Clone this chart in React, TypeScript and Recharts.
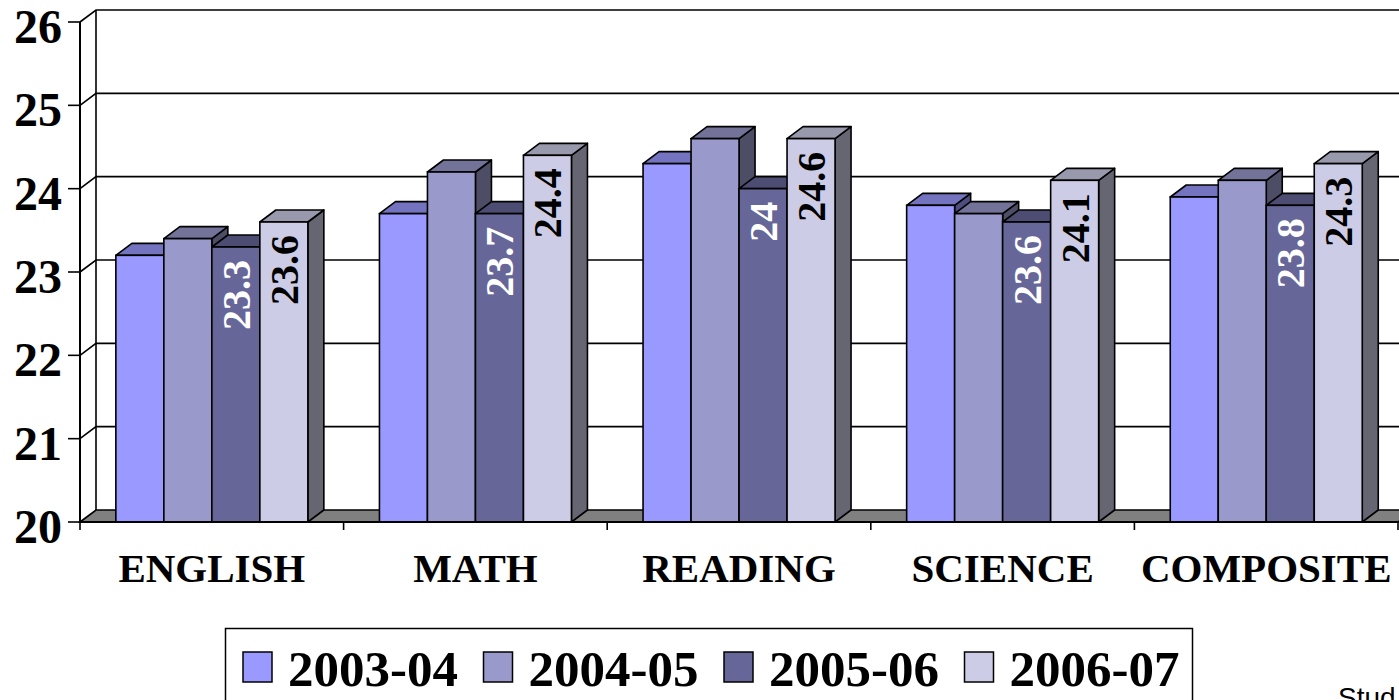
import React from 'react';
import { BarChart, Bar, XAxis, YAxis, CartesianGrid } from 'recharts';

const categories = ['ENGLISH', 'MATH', 'READING', 'SCIENCE', 'COMPOSITE'];
const s2003 = [23.2, 23.7, 24.3, 23.8, 23.9];
const s2004 = [23.4, 24.2, 24.6, 23.7, 24.1];
const s2005 = [23.3, 23.7, 24.0, 23.6, 23.8];
const s2006 = [23.6, 24.4, 24.6, 24.1, 24.3];
const seriesNames = ['2003-04', '2004-05', '2005-06', '2006-07'];
const seriesKeys = ['s2003', 's2004', 's2005', 's2006'];
const yTicks = [20, 21, 22, 23, 24, 25, 26];

const frontColors = ['#9999FF', '#9999CC', '#666699', '#CCCCE6'];
const topColors = ['#7373BF', '#737399', '#4D4D73', '#9999AD'];
const sideColors = ['#4D4D80', '#4D4D66', '#33334D', '#666673'];
const labelColors = [null, null, '#FFFFFF', '#000000'];

const data = categories.map((c, i) => ({
  cat: c,
  s2003: s2003[i],
  s2004: s2004[i],
  s2005: s2005[i],
  s2006: s2006[i],
}));

const DX = 16;
const DY = 12;
const SERIF = "'Liberation Serif', 'Times New Roman', serif";
const SW = 1.6;

const makeShape = (si: number) => (p: any) => {
  const { x, y, width: w, height: h } = p;
  if (x == null || y == null) return <g />;
  const lc = labelColors[si];
  const val = p.payload ? p.payload[seriesKeys[si]] : p.value;
  const cx = x + w / 2;
  const ty = y + 13;
  return (
    <g>
      <polygon
        points={`${x + w},${y} ${x + w + DX},${y - DY} ${x + w + DX},${y + h - DY} ${x + w},${y + h}`}
        fill={sideColors[si]}
        stroke="#000"
        strokeWidth={SW}
        strokeLinejoin="round"
      />
      <polygon
        points={`${x},${y} ${x + DX},${y - DY} ${x + w + DX},${y - DY} ${x + w},${y}`}
        fill={topColors[si]}
        stroke="#000"
        strokeWidth={SW}
        strokeLinejoin="round"
      />
      <rect x={x} y={y} width={w} height={h} fill={frontColors[si]} stroke="#000" strokeWidth={SW} />
      {lc && (
        <g transform={`translate(${cx} ${ty}) rotate(-90)`} fontFamily="Liberation Serif">
          <text
            x={0}
            y={14}
            textAnchor="end"
            fill={lc}
            fontFamily="Liberation Serif"
            fontWeight={700}
            fontSize={40}
            style={{ fontFamily: 'Liberation Serif' }}
          >
            {String(val)}
          </text>
        </g>
      )}
    </g>
  );
};

const gridLine = (p: any) => {
  const { x1, y1, x2, index } = p;
  const plotTop = p.y;
  const plotBottom = p.y + p.height;
  const isBottom = Math.abs(y1 - plotBottom) < 0.5;
  return (
    <g key={`h-${index}`}>
      {isBottom ? (
        <polygon
          points={`${x1},${y1} ${x1 + DX},${y1 - DY} ${x2 + DX},${y1 - DY} ${x2},${y1}`}
          fill="#808080"
          stroke="#000"
          strokeWidth={SW}
        />
      ) : (
        <polyline
          points={`${x1},${y1} ${x1 + DX},${y1 - DY} ${x2 + DX},${y1 - DY}`}
          fill="none"
          stroke="#000"
          strokeWidth={SW}
        />
      )}
      {index === 0 && (
        <line x1={x1 + DX} y1={plotTop - DY} x2={x1 + DX} y2={plotBottom - DY} stroke="#000" strokeWidth={SW} />
      )}
    </g>
  );
};

const XTick = (p: any) => {
  const { x, y, payload, index } = p;
  const half = payload && payload.offset != null ? payload.offset : 131.8;
  return (
    <g>
      <line x1={x - half} y1={y - 8} x2={x - half} y2={y} stroke="#000" strokeWidth={SW} />
      {index === categories.length - 1 && (
        <line x1={x + half} y1={y - 8} x2={x + half} y2={y} stroke="#000" strokeWidth={SW} />
      )}
      <text x={x} y={y + 52} textAnchor="middle" fontFamily={SERIF} fontWeight="bold" fontSize={41} fill="#000">
        {payload.value}
      </text>
    </g>
  );
};

const YTick = (p: any) => {
  const { x, y, payload } = p;
  return (
    <text x={x} y={y + 21} textAnchor="end" fontFamily={SERIF} fontWeight="bold" fontSize={48} fill="#000">
      {payload.value}
    </text>
  );
};

export default function App() {
  return (
    <div style={{ position: 'absolute', left: 0, top: 0, width: 1399, height: 700, overflow: 'hidden', background: '#fff' }}>
      <BarChart
        width={1399}
        height={700}
        data={data}
        margin={{ top: 22, right: 1, left: 0, bottom: 118 }}
        barCategoryGap="13.6%"
        barGap={0}
      >
        <CartesianGrid vertical={false} horizontal={gridLine} />
        <XAxis
          dataKey="cat"
          height={60}
          tickSize={8}
          tickMargin={0}
          tickLine={false}
          axisLine={{ stroke: '#000', strokeWidth: 2 }}
          tick={<XTick />}
          interval={0}
        />
        <YAxis
          domain={[20, 26]}
          ticks={yTicks}
          width={80}
          tickSize={12}
          tickMargin={6}
          tickLine={{ stroke: '#000', strokeWidth: SW }}
          axisLine={{ stroke: '#000', strokeWidth: 2 }}
          tick={<YTick />}
          interval={0}
        />
        {seriesKeys.map((k, i) => (
          <Bar key={k} dataKey={k} name={seriesNames[i]} fill={frontColors[i]} shape={makeShape(i)} isAnimationActive={false} />
        ))}
      </BarChart>
      <svg width={1399} height={700} style={{ position: 'absolute', left: 0, top: 0, pointerEvents: 'none' }}>
        <rect x={225.5} y={628.5} width={967} height={100} fill="#fff" stroke="#000" strokeWidth={1.5} />
        {seriesNames.map((n, i) => (
          <g key={n}>
            <rect x={243 + 240.5 * i} y={652} width={29} height={30} fill={frontColors[i]} stroke="#000" strokeWidth={1.5} />
            <text x={288 + 240.5 * i} y={686} fontFamily={SERIF} fontWeight="bold" fontSize={51} fill="#000">
              {n}
            </text>
          </g>
        ))}
        <text x={1338} y={707} fontFamily="'Liberation Sans', Arial, sans-serif" fontSize={28} fill="#000">
          Stud
        </text>
      </svg>
    </div>
  );
}
